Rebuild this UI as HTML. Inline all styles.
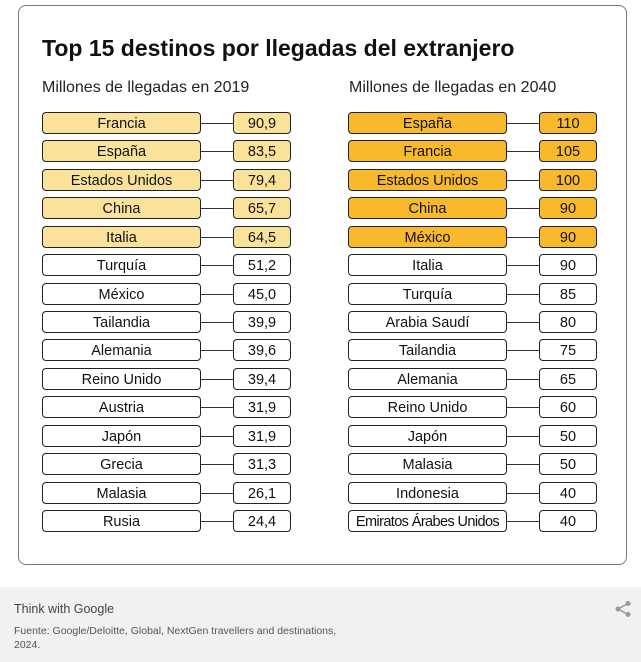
<!DOCTYPE html>
<html><head><meta charset="utf-8"><style>
body{margin:0;width:641px;height:662px;background:#fff;font-family:"Liberation Sans",sans-serif;position:relative;overflow:hidden}
.card{position:absolute;left:18px;top:5px;width:609px;height:560px;border:1.5px solid #777;border-radius:8px;box-sizing:border-box}
.t{position:absolute;left:42px;top:35px;font-size:23px;font-weight:bold;color:#111}
.s{position:absolute;top:79px;font-size:16px;color:#222}
.b{position:absolute;height:22px;border:1.3px solid #222;border-radius:4px;box-sizing:border-box;text-align:center;font-size:14.5px;line-height:22px;color:#111;white-space:nowrap}
.l{position:absolute;height:1px;background:#333}
.foot{position:absolute;left:0;top:587px;width:641px;height:75px;background:#f1f1f1}
</style></head><body>
<div class="card"></div>
<div class="t">Top 15 destinos por llegadas del extranjero</div>
<div class="s" style="left:42px">Millones de llegadas en 2019</div>
<div class="s" style="left:349px">Millones de llegadas en 2040</div>
<div id="rows"></div>
<div class="foot">
<div style="position:absolute;left:14px;top:15px;font-size:12.5px;color:#444">Think with Google</div>
<div style="position:absolute;left:14px;top:37px;font-size:10.5px;color:#555;line-height:14px">Fuente: Google/Deloitte, Global, NextGen travellers and destinations,<br>2024.</div>
<svg style="position:absolute;left:614px;top:13px" width="18" height="18" viewBox="0 0 18 18"><circle cx="14" cy="3.5" r="2.5" fill="#999"/><circle cx="4" cy="9" r="2.5" fill="#999"/><circle cx="14" cy="14.5" r="2.5" fill="#999"/><path d="M14 3.5L4 9L14 14.5" stroke="#999" stroke-width="1.5" fill="none"/></svg>
</div>
<script>
var L=[["Francia","90,9"],["España","83,5"],["Estados Unidos","79,4"],["China","65,7"],["Italia","64,5"],["Turquía","51,2"],["México","45,0"],["Tailandia","39,9"],["Alemania","39,6"],["Reino Unido","39,4"],["Austria","31,9"],["Japón","31,9"],["Grecia","31,3"],["Malasia","26,1"],["Rusia","24,4"]];
var R=[["España","110"],["Francia","105"],["Estados Unidos","100"],["China","90"],["México","90"],["Italia","90"],["Turquía","85"],["Arabia Saudí","80"],["Tailandia","75"],["Alemania","65"],["Reino Unido","60"],["Japón","50"],["Malasia","50"],["Indonesia","40"],["Emiratos Árabes Unidos","40"]];
var h="";
function col(d,x,c){for(var i=0;i<15;i++){var y=Math.round(112+i*28.43);var bg=i<5?c:"#fff";
h+='<div class="b" style="left:'+x+'px;top:'+y+'px;width:159px;background:'+bg+(i==14&&x>300?';letter-spacing:-0.6px':'')+'">'+d[i][0]+'</div>';
h+='<div class="l" style="left:'+(x+159)+'px;top:'+(y+11)+'px;width:32px"></div>';
h+='<div class="b" style="left:'+(x+191)+'px;top:'+y+'px;width:58px;background:'+bg+'">'+d[i][1]+'</div>';}}
col(L,42,"#fbe29a");col(R,348,"#f8b92d");
document.getElementById("rows").innerHTML=h;
</script>
</body></html>
